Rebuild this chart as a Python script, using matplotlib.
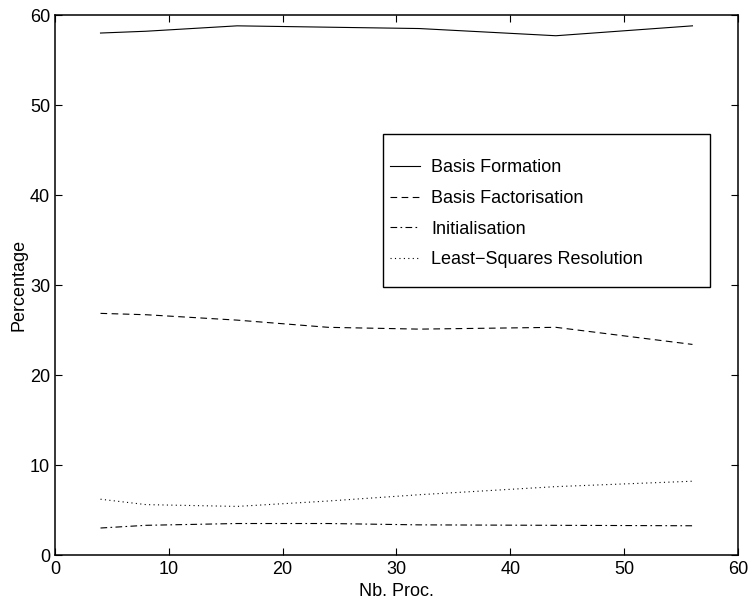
import matplotlib
matplotlib.use("Agg")
import matplotlib.pyplot as plt
from matplotlib.patches import Rectangle

plt.rcParams['font.family'] = ['Liberation Sans', 'DejaVu Sans']

nb_proc = [4, 8, 16, 24, 32, 44, 56]
basis_formation = [58.0, 58.2, 58.8, 58.65, 58.5, 57.7, 58.8]
basis_factorisation = [26.85, 26.7, 26.1, 25.3, 25.1, 25.3, 23.4]
initialisation = [3.0, 3.3, 3.5, 3.5, 3.35, 3.3, 3.25]
least_squares = [6.2, 5.6, 5.4, 6.0, 6.7, 7.6, 8.2]

labels = ["Basis Formation", "Basis Factorisation", "Initialisation", "Least\u2212Squares Resolution"]
xticks = [0, 10, 20, 30, 40, 50, 60]
yticks = [0, 10, 20, 30, 40, 50, 60]

fig = plt.figure(figsize=(7.5, 6.04), dpi=100)
ax = fig.add_axes([0.0733, 0.0811, 0.9107, 0.894])

lw = 0.8
ax.plot(nb_proc, basis_formation, color='black', lw=lw, linestyle='-', label=labels[0])
ax.plot(nb_proc, basis_factorisation, color='black', lw=lw, linestyle=(0, (6, 4)), label=labels[1])
ax.plot(nb_proc, initialisation, color='black', lw=lw, linestyle=(0, (6, 3, 1.5, 3)), label=labels[2])
ax.plot(nb_proc, least_squares, color='black', lw=lw, linestyle=(0, (1, 3)), label=labels[3])

ax.set_xlim(0, 60)
ax.set_ylim(0, 60)
ax.set_xticks(xticks)
ax.set_yticks(yticks)
ax.tick_params(direction='in', length=5, labelsize=13, top=True, right=True, width=0.8)
ax.tick_params(axis='x', pad=4.5)
ax.tick_params(axis='y', pad=3.5)
for s in ax.spines.values():
    s.set_linewidth(1.1)

ax.set_xlabel("Nb. Proc.", fontsize=13, labelpad=3.5)
ax.set_ylabel("Percentage", fontsize=13, labelpad=1.5)

# legend box (MATLAB-style fixed box)
ax.add_patch(Rectangle((0.4798, 0.4963), 0.959 - 0.4798, 0.7796 - 0.4963,
                       transform=ax.transAxes, facecolor='white', edgecolor='black',
                       lw=1.0, zorder=4))
leg = ax.legend(loc='upper left', bbox_to_anchor=(0.4905, 0.7325), fontsize=13,
                frameon=False, handlelength=1.67, handletextpad=0.61, borderpad=0,
                labelspacing=0.75, borderaxespad=0)
leg.set_zorder(5)

fig.savefig("out.png", dpi=100)
